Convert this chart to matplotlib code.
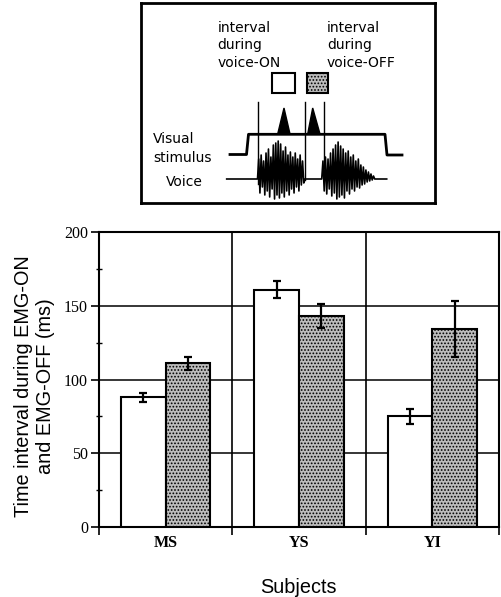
import numpy as np
import matplotlib
matplotlib.use("Agg")
import matplotlib.pyplot as plt
from matplotlib.patches import Rectangle, Polygon

# ---- data ----
categories = ["MS", "YS", "YI"]
on_vals = [88, 161, 75]
on_err = [3, 6, 5]
off_vals = [111, 143, 134]
off_err = [4.5, 8, 19]
yticks = [0, 50, 100, 150, 200]

# schematic voice burst samples for the inset (pixel offsets above baseline)
burst1 = [0, 20, -14, 24, -8, 18, -16, 26, -12, 30, -18, 22, -10, 34, -20, 36, -16, 38, -19, 35,
          -14, 28, -18, 32, -12, 24, -16, 27, -10, 22, -14, 26, -8, 20, -12, 24, -6, 18, -4, 0]
burst2 = [0, 18, -12, 22, -15, 20, -10, 26, -17, 30, -14, 34, -20, 37, -18, 33, -16, 30, -19, 26,
          -12, 28, -15, 22, -10, 24, -12, 18, -8, 20, -9, 14, -6, 12, -5, 9, -3, 7, -2, 5, -1, 3, 0, 0]

plt.rcParams['hatch.linewidth'] = 0.8

W, H = 502, 597
fig = plt.figure(figsize=(W / 100, H / 100), dpi=100)

# ---- main axes ----
ax = fig.add_axes([99 / W, 1 - 527 / H, 400 / W, 295 / H])
x = np.arange(len(categories)) + 0.5
width = 0.335
ax.bar(x - width / 2, on_vals, width, color="white", edgecolor="black", lw=1.5, zorder=3)
ax.bar(x + width / 2, off_vals, width, color="#bdbdbd", edgecolor="black", lw=1.5,
       hatch=".....", zorder=3)
ax.errorbar(x - width / 2, on_vals, yerr=on_err, fmt="none", ecolor="black", elinewidth=1.6,
            capsize=3, capthick=1.6, zorder=4)
ax.errorbar(x + width / 2, off_vals, yerr=off_err, fmt="none", ecolor="black", elinewidth=1.6,
            capsize=3, capthick=1.6, zorder=4)
for yv in yticks[1:-1]:
    ax.axhline(yv, color="black", lw=1.1, zorder=1)
for xv in [1, 2]:
    ax.axvline(xv, color="black", lw=1.2, zorder=2)

ax.set_xlim(0, 3)
ax.set_ylim(0, 200)
ax.set_yticks(yticks)
ax.set_yticks([25, 75, 125, 175], minor=True)
ax.set_xticks([0, 1, 2, 3])
ax.set_xticklabels([])
ax.set_xticks(x, minor=True)
ax.set_xticklabels(categories, minor=True, fontfamily="Liberation Serif",
                   fontweight="bold", fontsize=11.5)
ax.tick_params(axis="x", which="major", direction="out", length=6, width=1.2)
ax.tick_params(axis="x", which="minor", length=0, pad=6)
ax.tick_params(axis="y", which="major", direction="out", length=6, width=1.2, pad=2,
               labelsize=11.5)
ax.tick_params(axis="y", which="minor", direction="inout", length=4, width=1.0)
for lab in ax.get_yticklabels():
    lab.set_fontfamily("Liberation Serif")
for sp in ax.spines.values():
    sp.set_linewidth(1.5)

fig.text(35 / W, 1 - 386.5 / H, "Time interval during EMG-ON\nand EMG-OFF (ms)",
         rotation=90, ha="center", va="center", fontsize=14.3, fontfamily="Liberation Sans",
         linespacing=1.2)
fig.text(298 / W, 1 - 593 / H, "Subjects", ha="center", va="baseline",
         fontsize=14.3, fontfamily="Liberation Sans")

# ---- inset schematic ----
ax2 = fig.add_axes([141 / W, 1 - 203 / H, 294 / W, 200 / H])
ax2.set_xlim(141, 435)
ax2.set_ylim(203, 3)
ax2.set_xticks([])
ax2.set_yticks([])
for sp in ax2.spines.values():
    sp.set_linewidth(2)

fs_in = 10
tk = dict(fontsize=fs_in, fontfamily="DejaVu Sans", va="baseline", ha="left")
for txt, yb in zip(["interval", "during", "voice-ON"], [31.7, 48.5, 66.7]):
    ax2.text(217.3, yb, txt, **tk)
for txt, yb in zip(["interval", "during", "voice-OFF"], [31.7, 48.5, 66.7]):
    ax2.text(327, yb, txt, **tk)
ax2.text(153.3, 143.3, "Visual", **tk)
ax2.text(153.3, 162, "stimulus", **tk)
ax2.text(166, 185.5, "Voice", **tk)

ax2.add_patch(Rectangle((272, 73), 23, 20, fc="white", ec="black", lw=1.5))
ax2.add_patch(Rectangle((306.7, 73), 21.6, 20, fc="#bdbdbd", ec="black", lw=1.5, hatch="....."))

for xv, y1 in [(258.3, 184), (304.7, 180), (324, 168)]:
    ax2.plot([xv, xv], [101.7, y1], color="black", lw=1.0)

ax2.add_patch(Polygon([(277.7, 134), (284, 108), (290, 134)], closed=True, fc="black", ec="black"))
ax2.add_patch(Polygon([(307.7, 134), (312.7, 108), (320, 134)], closed=True, fc="black", ec="black"))

ax2.plot([230, 246.5, 248.5, 385, 387, 402], [154.5, 154.5, 134.3, 134.3, 155, 155],
         color="black", lw=2)

base = 179
b1x = np.linspace(257.5, 305, len(burst1))
b2x = np.linspace(321.7, 376, len(burst2))
vx = [226.7] + list(b1x) + list(b2x) + [386.7]
vy = [base] + [base - v for v in burst1] + [base - v for v in burst2] + [base]
ax2.plot(vx, vy, color="black", lw=1.2)

fig.savefig("out.png", dpi=100)
